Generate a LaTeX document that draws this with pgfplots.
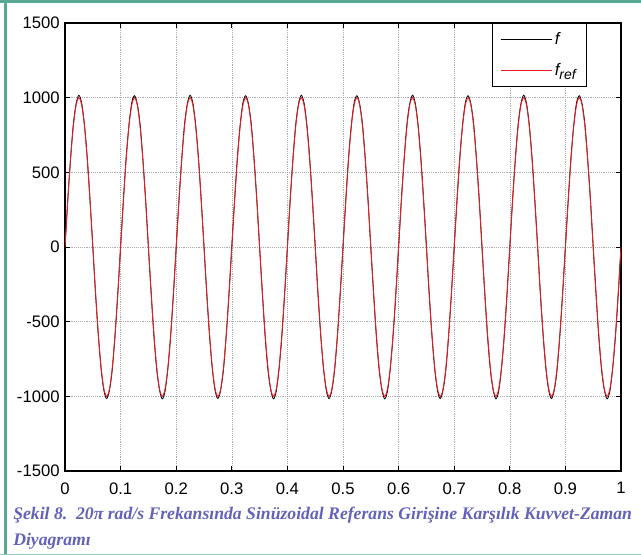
\documentclass[border=0pt]{standalone}
\usepackage{pgfplots}
\pgfplotsset{compat=1.18}
\usepackage{pgfplotstable}
\usepackage{fontspec}
\setmainfont{Liberation Serif}
\newfontfamily\helv{Liberation Sans}
\definecolor{teal1}{RGB}{88,168,148}
\definecolor{teal2}{RGB}{140,205,188}
\definecolor{capblue}{RGB}{98,98,185}
\definecolor{refred}{RGB}{235,25,35}
\pgfplotstableread{
t f r
0.000 0 0
0.005 318 309
0.010 592 588
0.015 822 809
0.020 960 951
0.025 1016 1000
0.030 963 951
0.035 818 809
0.040 598 588
0.045 314 309
0.050 6 0
0.055 -316 -309
0.060 -595 -588
0.065 -818 -809
0.070 -962 -951
0.075 -1015 -1000
0.080 -958 -951
0.085 -821 -809
0.090 -593 -588
0.095 -311 -309
0.100 3 0
0.105 312 309
0.110 598 588
0.115 816 809
0.120 966 951
0.125 1013 1000
0.130 958 951
0.135 824 809
0.140 591 588
0.145 318 309
0.150 -2 0
0.155 -310 -309
0.160 -600 -588
0.165 -822 -809
0.170 -957 -951
0.175 -1017 -1000
0.180 -965 -951
0.185 -815 -809
0.190 -598 -588
0.195 -317 -309
0.200 0 0
0.205 318 309
0.210 592 588
0.215 822 809
0.220 960 951
0.225 1016 1000
0.230 963 951
0.235 818 809
0.240 598 588
0.245 314 309
0.250 6 0
0.255 -316 -309
0.260 -595 -588
0.265 -818 -809
0.270 -962 -951
0.275 -1015 -1000
0.280 -958 -951
0.285 -821 -809
0.290 -593 -588
0.295 -311 -309
0.300 3 0
0.305 312 309
0.310 598 588
0.315 816 809
0.320 966 951
0.325 1013 1000
0.330 958 951
0.335 824 809
0.340 591 588
0.345 318 309
0.350 -2 0
0.355 -310 -309
0.360 -600 -588
0.365 -822 -809
0.370 -957 -951
0.375 -1017 -1000
0.380 -965 -951
0.385 -815 -809
0.390 -598 -588
0.395 -317 -309
0.400 0 0
0.405 318 309
0.410 592 588
0.415 822 809
0.420 960 951
0.425 1016 1000
0.430 963 951
0.435 818 809
0.440 598 588
0.445 314 309
0.450 6 0
0.455 -316 -309
0.460 -595 -588
0.465 -818 -809
0.470 -962 -951
0.475 -1015 -1000
0.480 -958 -951
0.485 -821 -809
0.490 -593 -588
0.495 -311 -309
0.500 3 0
0.505 312 309
0.510 598 588
0.515 816 809
0.520 966 951
0.525 1013 1000
0.530 958 951
0.535 824 809
0.540 591 588
0.545 318 309
0.550 -2 0
0.555 -310 -309
0.560 -600 -588
0.565 -822 -809
0.570 -957 -951
0.575 -1017 -1000
0.580 -965 -951
0.585 -815 -809
0.590 -598 -588
0.595 -317 -309
0.600 0 0
0.605 318 309
0.610 592 588
0.615 822 809
0.620 960 951
0.625 1016 1000
0.630 963 951
0.635 818 809
0.640 598 588
0.645 314 309
0.650 6 0
0.655 -316 -309
0.660 -595 -588
0.665 -818 -809
0.670 -962 -951
0.675 -1015 -1000
0.680 -958 -951
0.685 -821 -809
0.690 -593 -588
0.695 -311 -309
0.700 3 0
0.705 312 309
0.710 598 588
0.715 816 809
0.720 966 951
0.725 1013 1000
0.730 958 951
0.735 824 809
0.740 591 588
0.745 318 309
0.750 -2 0
0.755 -310 -309
0.760 -600 -588
0.765 -822 -809
0.770 -957 -951
0.775 -1017 -1000
0.780 -965 -951
0.785 -815 -809
0.790 -598 -588
0.795 -317 -309
0.800 0 0
0.805 318 309
0.810 592 588
0.815 822 809
0.820 960 951
0.825 1016 1000
0.830 963 951
0.835 818 809
0.840 598 588
0.845 314 309
0.850 6 0
0.855 -316 -309
0.860 -595 -588
0.865 -818 -809
0.870 -962 -951
0.875 -1015 -1000
0.880 -958 -951
0.885 -821 -809
0.890 -593 -588
0.895 -311 -309
0.900 3 0
0.905 312 309
0.910 598 588
0.915 816 809
0.920 966 951
0.925 1013 1000
0.930 958 951
0.935 824 809
0.940 591 588
0.945 318 309
0.950 -2 0
0.955 -310 -309
0.960 -600 -588
0.965 -822 -809
0.970 -957 -951
0.975 -1017 -1000
0.980 -965 -951
0.985 -815 -809
0.990 -598 -588
0.995 -317 -309
1.000 0 0
}\data
\begin{document}
\begin{tikzpicture}
\path[use as bounding box] (0,0) rectangle (480.75pt,416.25pt);
\fill[teal1] (0,413.9pt) rectangle (480.75pt,416.25pt);
\fill[teal1] (3pt,0) rectangle (5.4pt,416.25pt);
\fill[teal2] (0,0) rectangle (480.75pt,1pt);
\begin{axis}[
  at={(48.75pt,63pt)}, anchor=south west, scale only axis,
  width=417pt, height=336pt,
  xmin=0, xmax=1, ymin=-1500, ymax=1500,
  xtick={0,0.1,0.2,0.3,0.4,0.5,0.6,0.7,0.8,0.9,1},
  xticklabels={0,0.1,0.2,0.3,0.4,0.5,0.6,0.7,0.8,0.9,1},
  ytick={-1500,-1000,-500,0,500,1000,1500},
  yticklabels={-1500,-1000,-500,0,500,1000,1500},
  tick align=inside, major tick length=4pt,
  xtick pos=both, ytick pos=both,
  grid=major,
  major grid style={densely dotted, gray!65, line width=0.4pt},
  axis line style={line width=0.9pt},
  tick style={black, line width=0.6pt},
  ticklabel style={font=\helv\fontsize{12.5}{14}\selectfont},
  xticklabel style={yshift=-5pt},
  yticklabel style={xshift=-0.5pt},
  /pgf/number format/assume math mode=true,
  legend style={at={(0.939,1)}, anchor=north east, draw=black, line width=0.9pt,
    fill=white, font=\helv\itshape\fontsize{12.5}{14}\selectfont,
    inner xsep=6pt, inner ysep=5pt, row sep=8pt},
  legend cell align=left,
  legend image code/.code={\draw[#1, line width=0.8pt] (0pt,0pt) -- (38pt,0pt);},
]
\addplot[black, line width=0.6pt, smooth] table[x=t, y=f] {\data};
\addlegendentry{f}
\addplot[refred, line width=0.7pt, smooth] table[x=t, y=r] {\data};
\addlegendentry{f\raisebox{-0.5ex}{\fontsize{10.5}{11}\selectfont ref}}
\end{axis}
\node[anchor=base west, inner sep=0pt, text=capblue, font=\bfseries\itshape\fontsize{13.25}{15}\selectfont] at (9.75pt,26.25pt)
  {Şekil 8.\ \ 20π rad/s Frekansında Sinüzoidal Referans Girişine Karşılık Kuvvet-Zaman};
\node[anchor=base west, inner sep=0pt, text=capblue, font=\bfseries\itshape\fontsize{13.25}{15}\selectfont] at (9.75pt,6.75pt)
  {Diyagramı};
\end{tikzpicture}
\end{document}
